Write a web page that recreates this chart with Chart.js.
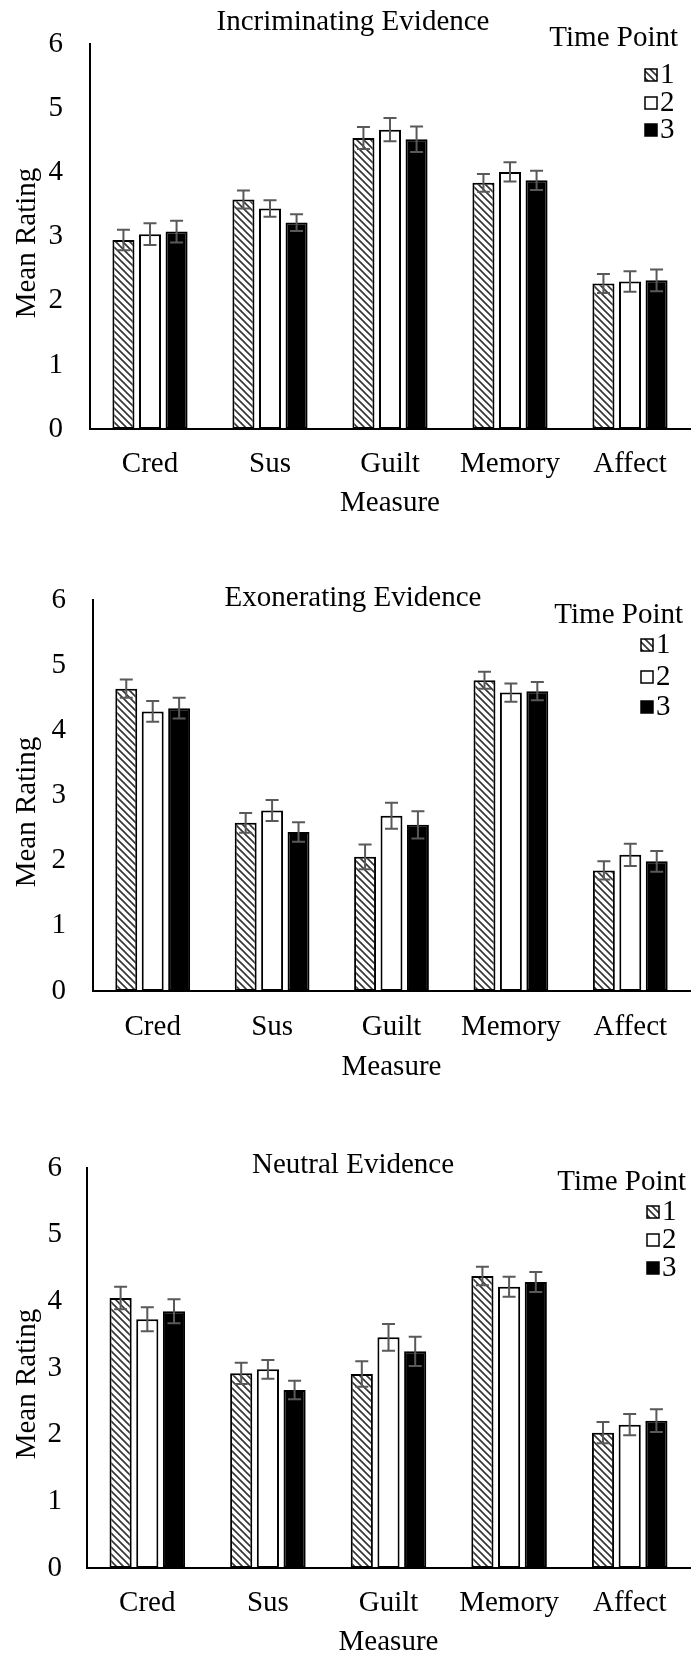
<!DOCTYPE html>
<html>
<head>
<meta charset="utf-8">
<script src="https://cdn.jsdelivr.net/npm/chart.js@4.4.1/dist/chart.umd.min.js"></script>
<style>
  html, body { margin: 0; padding: 0; background: #fff; }
  body { width: 691px; height: 1656px; position: relative; overflow: hidden; }
  .panel { position: absolute; left: 0; width: 691px; }
  canvas { display: block; }
</style>
</head>
<body>
<div class="panel" id="p0"><canvas id="c0"></canvas></div>
<div class="panel" id="p1"><canvas id="c1"></canvas></div>
<div class="panel" id="p2"><canvas id="c2"></canvas></div>
<script>
// ---- data ----
const measures = ['Cred', 'Sus', 'Guilt', 'Memory', 'Affect'];
const timePoints = ['1', '2', '3'];
const yMin = 0, yMax = 6, yStep = 1;
const panelTitles = ['Incriminating Evidence', 'Exonerating Evidence', 'Neutral Evidence'];

// Incriminating evidence: means and standard errors per time point
const incT1 = [2.95, 3.58, 4.54, 3.84, 2.27];
const incT2 = [3.04, 3.44, 4.67, 4.01, 2.30];
const incT3 = [3.08, 3.22, 4.52, 3.88, 2.32];
const incE1 = [0.16, 0.14, 0.17, 0.14, 0.15];
const incE2 = [0.17, 0.13, 0.18, 0.15, 0.16];
const incE3 = [0.17, 0.13, 0.20, 0.15, 0.17];

// Exonerating evidence
const exoT1 = [4.64, 2.58, 2.06, 4.77, 1.85];
const exoT2 = [4.29, 2.77, 2.69, 4.58, 2.09];
const exoT3 = [4.34, 2.44, 2.55, 4.60, 1.99];
const exoE1 = [0.14, 0.15, 0.19, 0.13, 0.14];
const exoE2 = [0.16, 0.16, 0.20, 0.14, 0.17];
const exoE3 = [0.16, 0.15, 0.21, 0.14, 0.16];

// Neutral evidence
const neuT1 = [4.05, 2.92, 2.91, 4.38, 2.03];
const neuT2 = [3.73, 2.98, 3.46, 4.22, 2.15];
const neuT3 = [3.85, 2.67, 3.25, 4.29, 2.21];
const neuE1 = [0.17, 0.16, 0.19, 0.14, 0.16];
const neuE2 = [0.18, 0.14, 0.20, 0.15, 0.16];
const neuE3 = [0.18, 0.14, 0.22, 0.15, 0.17];

// ---- styling / layout ----
const FONT = '"Liberation Serif", "Times New Roman", Times, serif';
const FS = 29;
const LH = FS * 1.2;
const W = 691;

const layouts = [
  { top: 0,    height: 530, areaTop: 25,   areaBottom: 429,  left: 90, right: 690, tickPad: 27,
    labelY: 464,  axisTitleY: 503,  yTitleX: 27, yTitleY: 243,  titleY: 22,   titleX: 353,
    legendHeadY: 38,   legendYs: [75, 103, 130],     legendRight: 678, boxX: 645 },
  { top: 540,  height: 560, areaTop: 600,  areaBottom: 991,  left: 93, right: 690, tickPad: 27,
    labelY: 1027, axisTitleY: 1067, yTitleX: 27, yTitleY: 812,  titleY: 598,  titleX: 353,
    legendHeadY: 615,  legendYs: [645, 677, 707],    legendRight: 683, boxX: 641 },
  { top: 1100, height: 556, areaTop: 1168, areaBottom: 1568, left: 87, right: 690, tickPad: 25,
    labelY: 1603, axisTitleY: 1642, yTitleX: 27, yTitleY: 1384, titleY: 1165, titleX: 353,
    legendHeadY: 1182, legendYs: [1212, 1240, 1268], legendRight: 686, boxX: 647 }
];

function makeHatch() {
  const s = 7;
  const tile = document.createElement('canvas');
  tile.width = s; tile.height = s;
  const g = tile.getContext('2d');
  g.fillStyle = '#ffffff';
  g.fillRect(0, 0, s, s);
  g.strokeStyle = '#333333';
  g.lineWidth = 1.6;
  g.beginPath();
  g.moveTo(-1, -1); g.lineTo(s + 1, s + 1);
  g.moveTo(-1, s - 1); g.lineTo(1, s + 1);
  g.moveTo(s - 1, -1); g.lineTo(s + 1, 1);
  g.stroke();
  return document.createElement('canvas').getContext('2d').createPattern(tile, 'repeat');
}
const hatch = makeHatch();
const fills = [hatch, '#ffffff', '#000000'];

function decorPlugin(L, title) {
  return {
    id: 'decor',
    afterDatasetsDraw(chart) {
      // error bars from each bar's value and its standard error
      const ctx = chart.ctx;
      const ys = chart.scales.y;
      ctx.save();
      ctx.strokeStyle = '#595959';
      ctx.lineWidth = 2;
      chart.data.datasets.forEach((ds, i) => {
        const meta = chart.getDatasetMeta(i);
        meta.data.forEach((bar, j) => {
          const v = ds.data[j], e = ds.errors[j];
          const yt = ys.getPixelForValue(v + e);
          const yb = ys.getPixelForValue(v - e);
          const x = bar.x, cap = 6.5;
          ctx.beginPath();
          ctx.moveTo(x, yt); ctx.lineTo(x, yb);
          ctx.moveTo(x - cap, yt); ctx.lineTo(x + cap, yt);
          ctx.moveTo(x - cap, yb); ctx.lineTo(x + cap, yb);
          ctx.stroke();
        });
      });
      ctx.restore();
    },
    afterDraw(chart) {
      const ctx = chart.ctx;
      ctx.save();
      ctx.fillStyle = '#000';
      ctx.font = FS + 'px ' + FONT;
      ctx.textBaseline = 'middle';
      // panel title
      ctx.textAlign = 'center';
      ctx.fillText(title, L.titleX, L.titleY - L.top);
      // y-axis title
      ctx.save();
      ctx.translate(L.yTitleX, L.yTitleY - L.top);
      ctx.rotate(-Math.PI / 2);
      ctx.fillText('Mean Rating', 0, 0);
      ctx.restore();
      // legend
      ctx.textAlign = 'right';
      ctx.fillText('Time Point', L.legendRight, L.legendHeadY - L.top);
      ctx.textAlign = 'left';
      chart.data.datasets.forEach((ds, i) => {
        const cy = L.legendYs[i] - L.top;
        const bs = 12;
        ctx.fillStyle = ds.backgroundColor;
        ctx.fillRect(L.boxX, cy - bs / 2, bs, bs);
        ctx.strokeStyle = '#000';
        ctx.lineWidth = 1.5;
        ctx.strokeRect(L.boxX, cy - bs / 2, bs, bs);
        ctx.fillStyle = '#000';
        ctx.fillText(ds.label, L.boxX + 15, cy);
      });
      ctx.restore();
    }
  };
}

function makePanel(idx, series, errors) {
  const L = layouts[idx];
  const wrap = document.getElementById('p' + idx);
  wrap.style.top = L.top + 'px';
  wrap.style.height = L.height + 'px';
  const canvas = document.getElementById('c' + idx);
  canvas.width = W; canvas.height = L.height;
  canvas.style.width = W + 'px'; canvas.style.height = L.height + 'px';
  const font = { family: FONT, size: FS };

  new Chart(canvas, {
    type: 'bar',
    data: {
      labels: measures,
      datasets: series.map((d, i) => ({
        label: timePoints[i],
        data: d,
        errors: errors[i],
        backgroundColor: fills[i],
        borderColor: '#000000',
        borderWidth: 2,
        borderSkipped: false,
        categoryPercentage: 0.664,
        barPercentage: 0.83
      }))
    },
    options: {
      responsive: false,
      animation: false,
      devicePixelRatio: 1,
      layout: { padding: { top: L.areaTop - L.top, left: 0, right: W - L.right, bottom: 0 } },
      plugins: { legend: { display: false }, tooltip: { enabled: false }, title: { display: false } },
      scales: {
        x: {
          grid: { display: false, drawTicks: false },
          border: { display: true, color: '#000', width: 2 },
          ticks: { color: '#000', font, padding: L.labelY - L.areaBottom - LH / 2, maxRotation: 0, autoSkip: false },
          title: { display: true, text: 'Measure', color: '#000', font,
                   padding: { top: 0, bottom: (L.top + L.height) - L.axisTitleY - LH / 2 } },
          afterFit(s) { s.height = (L.top + L.height) - L.areaBottom; }
        },
        y: {
          min: yMin, max: yMax,
          grid: { display: false, drawTicks: false },
          border: { display: true, color: '#000', width: 2 },
          ticks: { stepSize: yStep, color: '#000', font, padding: L.tickPad },
          title: { display: false },
          afterFit(s) { s.width = L.left; }
        }
      }
    },
    plugins: [decorPlugin(L, panelTitles[idx])]
  });
}

makePanel(0, [incT1, incT2, incT3], [incE1, incE2, incE3]);
makePanel(1, [exoT1, exoT2, exoT3], [exoE1, exoE2, exoE3]);
makePanel(2, [neuT1, neuT2, neuT3], [neuE1, neuE2, neuE3]);
</script>
</body>
</html>
